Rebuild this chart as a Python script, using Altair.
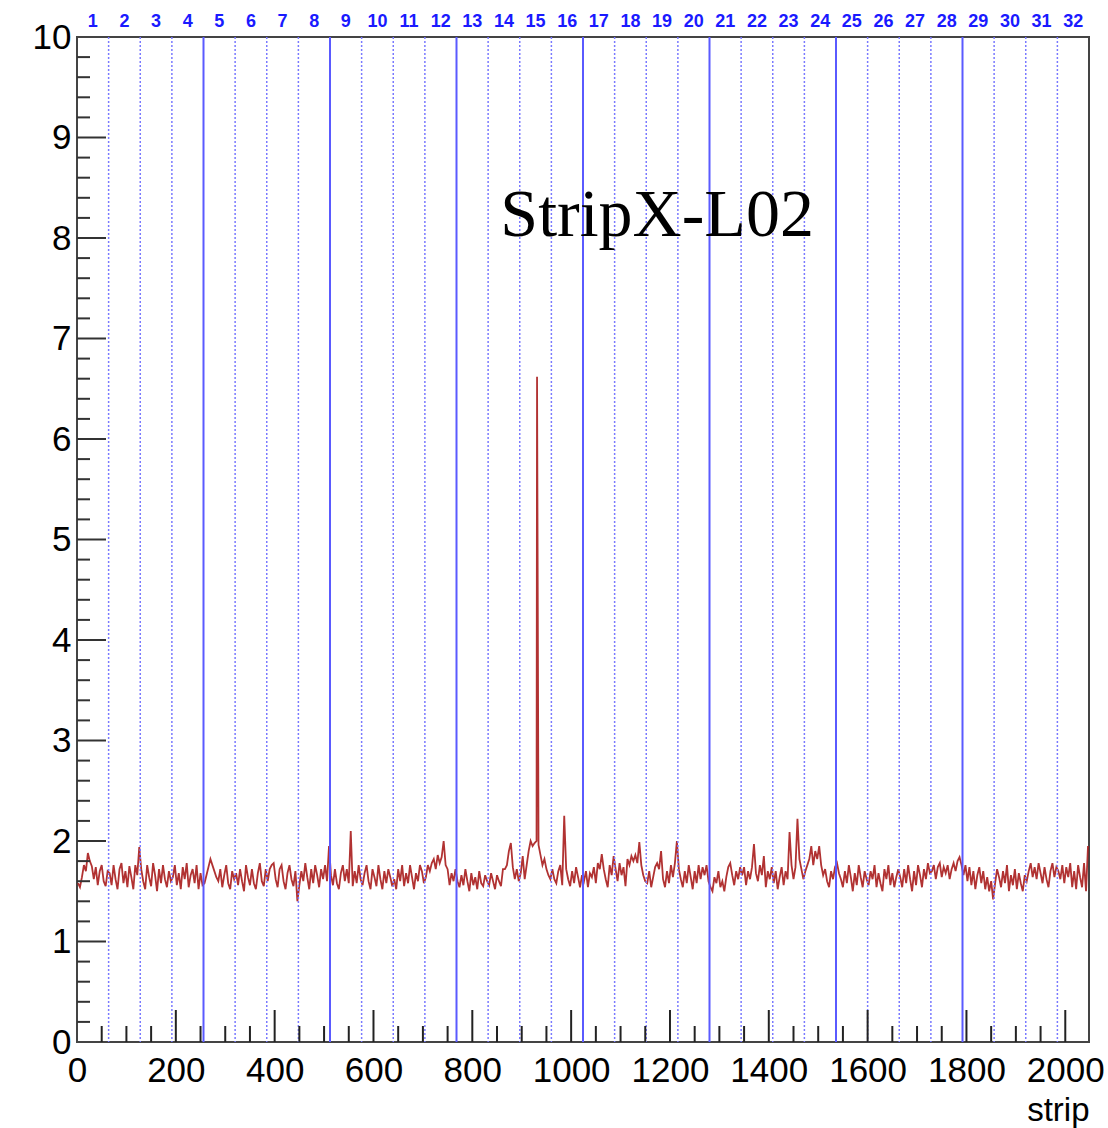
import altair as alt
import pandas as pd

# ---- data (values in hundredths, one per 4 strips, 16 per chip of 64 strips) ----
trace_hundredths = [
    158,154,164,176,170,188,180,175,162,174,156,170,176,160,155,170,
    168,156,176,162,152,172,178,158,170,154,175,164,152,176,166,194,
    172,160,152,176,164,155,178,166,150,172,158,176,162,154,170,160,
    164,176,156,168,152,174,162,178,154,166,172,158,176,152,168,156,
    158,166,174,182,176,170,164,160,172,154,166,176,158,152,170,162,
    168,156,172,160,150,176,164,156,172,158,152,168,178,160,155,172,
    160,172,176,178,162,154,172,176,160,152,168,176,162,155,170,140,
    156,170,160,178,164,152,172,158,176,166,154,172,162,176,160,195,
    166,156,172,158,152,168,176,160,172,158,210,155,170,158,176,162,
    156,168,176,160,152,172,164,155,176,162,152,170,158,172,164,155,
    162,152,172,160,176,155,168,158,176,164,152,168,160,176,170,158,
    164,176,170,178,182,172,186,178,184,200,176,172,156,168,160,172,
    160,154,166,156,172,160,150,168,156,164,152,170,158,155,166,160,
    156,168,160,152,166,160,155,172,172,176,190,198,174,162,172,160,
    168,185,162,176,190,200,195,198,200,196,186,176,182,172,166,162,
    172,162,158,170,176,156,225,172,162,155,170,158,174,164,154,166,
    160,170,154,168,164,174,158,178,172,187,172,162,154,176,166,185,
    172,160,178,166,174,155,182,176,185,180,186,178,199,176,166,160,
    158,170,154,164,174,178,172,190,162,154,170,158,176,164,178,200,
    172,162,154,170,158,176,164,152,170,158,176,162,174,166,176,160,
    154,150,164,158,170,154,160,150,164,174,178,166,156,170,162,174,
    166,174,156,170,162,174,197,168,160,176,166,185,154,170,162,174,
    158,170,152,164,174,156,170,162,209,176,162,174,222,182,172,162,
    170,176,182,195,176,190,182,195,176,166,172,160,154,170,162,174,
    178,168,162,154,170,158,176,164,150,168,156,176,164,154,170,162,
    156,170,162,176,154,168,158,150,172,162,176,156,168,154,164,172,
    164,154,172,158,176,162,150,170,156,176,166,154,172,162,178,168,
    170,176,162,174,178,164,174,168,176,162,172,178,170,180,184,176,
    166,176,160,174,156,170,152,166,174,158,170,152,164,150,160,142,
    158,172,164,154,170,158,176,150,166,156,172,152,168,158,150,166,
    160,170,178,164,174,162,178,168,158,174,162,154,170,178,164,174,
    170,162,176,158,174,164,178,154,170,152,176,164,154,178,150,195,
]
bin_width = 4
spike_strips = [931]
spike_values = [6.62]

chip_labels = [str(i) for i in range(1, 33)]
chip_centres = [32 + 64 * i for i in range(32)]
group_lines = [256, 512, 768, 1024, 1280, 1536, 1792]
chip_lines = [64 * i for i in range(1, 32) if (64 * i) % 256 != 0]

x_major_ticks = [200, 400, 600, 800, 1000, 1200, 1400, 1600, 1800, 2000]
x_minor_ticks = [v for v in range(50, 2048, 50) if v % 200 != 0]
y_major_ticks = [1, 2, 3, 4, 5, 6, 7, 8, 9]
y_minor_ticks = [round(0.2 * k, 1) for k in range(1, 50) if k % 5 != 0]

x_label_values = [0, 200, 400, 600, 800, 1000, 1200, 1400, 1600, 1800, 2000]
y_label_values = list(range(0, 11))

title_text = "StripX-L02"

# ---- tables ----
rows = [(bin_width * i + bin_width / 2, v / 100) for i, v in enumerate(trace_hundredths)]
rows += list(zip(spike_strips, spike_values))
trace = pd.DataFrame(rows, columns=["strip", "value"]).sort_values("strip").reset_index(drop=True)
trace["order"] = range(len(trace))

W, H = 1012, 1005
xscale = alt.Scale(domain=[0, 2048], nice=False, zero=False)
yscale = alt.Scale(domain=[0, 10], nice=False)

xaxis = alt.Axis(values=x_label_values, format="d", title="strip", ticks=False, domain=False,
                 grid=False, labelFontSize=35, labelFont="Liberation Sans",
                 labelColor="black", labelPadding=11, labelFlush=False,
                 titleAnchor="end", titleAlign="right", titleFontSize=33,
                 titleFont="Liberation Sans", titleFontWeight="normal",
                 titleColor="black", titlePadding=6)
yaxis = alt.Axis(values=y_label_values, format="d", title=None, ticks=False, domain=False,
                 grid=False, labelFontSize=35, labelFont="Liberation Sans",
                 labelColor="black", labelPadding=6, labelFlush=False)

line = alt.Chart(trace).mark_line(color="#a81c1c", strokeWidth=1.8, opacity=0.9, clip=True).encode(
    x=alt.X("strip:Q", scale=xscale, axis=xaxis),
    y=alt.Y("value:Q", scale=yscale, axis=yaxis),
    order="order:Q",
)

solid = alt.Chart(pd.DataFrame({"strip": group_lines})).mark_rule(
    color="#5a5aff", strokeWidth=2).encode(x=alt.X("strip:Q", scale=xscale, axis=xaxis))
dotted = alt.Chart(pd.DataFrame({"strip": chip_lines})).mark_rule(
    color="#7a7aff", strokeWidth=1.5, strokeDash=[2, 2]).encode(x=alt.X("strip:Q", scale=xscale, axis=xaxis))

xt_major = alt.Chart(pd.DataFrame({"strip": x_major_ticks})).mark_rule(color="#222", strokeWidth=2).encode(
    x=alt.X("strip:Q", scale=xscale, axis=xaxis), y=alt.value(H), y2=alt.value(H - 32))
xt_minor = alt.Chart(pd.DataFrame({"strip": x_minor_ticks})).mark_rule(color="#222", strokeWidth=2).encode(
    x=alt.X("strip:Q", scale=xscale, axis=xaxis), y=alt.value(H), y2=alt.value(H - 16))
yt_major = alt.Chart(pd.DataFrame({"value": y_major_ticks})).mark_rule(color="#333", strokeWidth=2).encode(
    y=alt.Y("value:Q", scale=yscale, axis=yaxis), x=alt.value(0), x2=alt.value(29))
yt_minor = alt.Chart(pd.DataFrame({"value": y_minor_ticks})).mark_rule(color="#333", strokeWidth=2).encode(
    y=alt.Y("value:Q", scale=yscale, axis=yaxis), x=alt.value(0), x2=alt.value(13))

chips = alt.Chart(pd.DataFrame({"strip": chip_centres, "t": chip_labels})).mark_text(
    color="#1a1aff", font="Liberation Sans", fontWeight="bold", fontSize=18,
    baseline="middle", align="center").encode(
    x=alt.X("strip:Q", scale=xscale, axis=xaxis), y=alt.value(-15), text="t:N")

title = alt.Chart(pd.DataFrame({"strip": [1174], "value": [8.02], "t": [title_text]})).mark_text(
    font="Liberation Serif", fontSize=68, color="black", baseline="alphabetic", align="center").encode(
    x=alt.X("strip:Q", scale=xscale, axis=xaxis), y=alt.Y("value:Q", scale=yscale, axis=yaxis), text="t:N")

chart = alt.layer(line, dotted, solid, xt_minor, xt_major, yt_minor, yt_major, chips, title).properties(
    width=W, height=H,
    autosize=alt.AutoSizeParams(type="none"),
    padding={"left": 77, "top": 37, "right": 19, "bottom": 86},
    background="white",
).configure_view(stroke="#444", strokeWidth=2)

chart.save("out.html", embed_options={"renderer": "svg", "actions": False})
